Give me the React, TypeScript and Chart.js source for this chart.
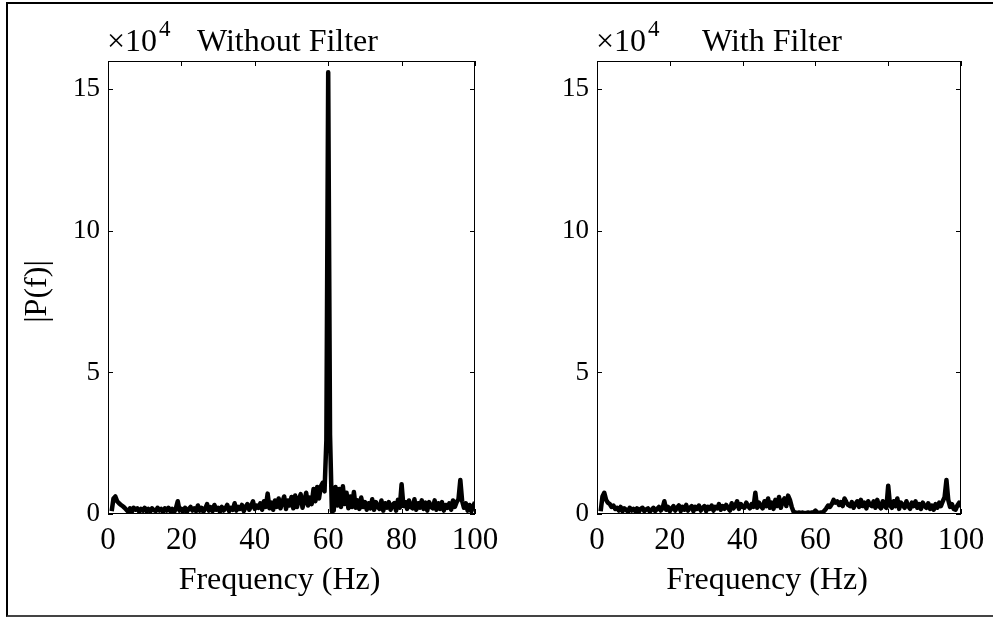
import React, { useEffect, useRef } from "react";
import { Chart, registerables } from "chart.js";

Chart.register(...registerables);

// Sample grid (Hz): 1.0, 1.5, ... 100.0
const frequencies: number[] = Array.from({ length: 199 }, (_, i) => 1 + i * 0.5);

// |P(f)| values in units of 10^4 (one value per 0.5 Hz)
const withoutFilter: number[] = [
  0.10, 0.55, 0.62, 0.45, 0.38, 0.32, 0.28, 0.22, 0.15, 0.08,
  0.20, 0.08, 0.22, 0.15, 0.20, 0.08, 0.18, 0.12, 0.22, 0.10,
  0.18, 0.08, 0.20, 0.14, 0.10, 0.22, 0.12, 0.18, 0.08, 0.20,
  0.12, 0.22, 0.10, 0.18, 0.06, 0.20, 0.45, 0.12, 0.18, 0.10,
  0.22, 0.08, 0.18, 0.25, 0.12, 0.20, 0.10, 0.30, 0.12, 0.22,
  0.08, 0.20, 0.35, 0.12, 0.24, 0.10, 0.32, 0.15, 0.22, 0.08,
  0.25, 0.12, 0.20, 0.32, 0.10, 0.22, 0.15, 0.38, 0.12, 0.25,
  0.18, 0.32, 0.10, 0.25, 0.35, 0.15, 0.28, 0.45, 0.18, 0.30,
  0.22, 0.38, 0.15, 0.45, 0.25, 0.72, 0.20, 0.40, 0.15, 0.48,
  0.25, 0.55, 0.20, 0.42, 0.62, 0.18, 0.48, 0.30, 0.60, 0.20,
  0.65, 0.25, 0.52, 0.70, 0.22, 0.48, 0.75, 0.30, 0.58, 0.35,
  0.88, 0.45, 0.95, 0.55, 0.98, 1.10, 0.80, 2.60, 15.60, 2.80,
  0.10, 0.12, 0.95, 0.30, 0.88, 0.25, 0.98, 0.35, 0.75, 0.20,
  0.62, 0.25, 0.78, 0.22, 0.48, 0.18, 0.58, 0.25, 0.42, 0.15,
  0.38, 0.20, 0.52, 0.15, 0.42, 0.25, 0.18, 0.48, 0.12, 0.38,
  0.22, 0.42, 0.15, 0.32, 0.38, 0.12, 0.50, 0.22, 1.05, 0.28,
  0.42, 0.18, 0.48, 0.25, 0.20, 0.52, 0.15, 0.38, 0.22, 0.48,
  0.18, 0.40, 0.12, 0.42, 0.25, 0.20, 0.48, 0.15, 0.38, 0.18,
  0.42, 0.12, 0.32, 0.22, 0.38, 0.15, 0.48, 0.25, 0.42, 0.52,
  1.20, 0.45, 0.22, 0.38, 0.12, 0.32, 0.10, 0.28, 0.42,
];

const withFilter: number[] = [
  0.10, 0.62, 0.75, 0.50, 0.40, 0.35, 0.25, 0.30, 0.18, 0.22,
  0.12, 0.25, 0.10, 0.20, 0.15, 0.08, 0.22, 0.12, 0.18, 0.10,
  0.20, 0.08, 0.18, 0.22, 0.10, 0.16, 0.20, 0.08, 0.15, 0.22,
  0.10, 0.18, 0.25, 0.12, 0.20, 0.45, 0.15, 0.25, 0.10, 0.20,
  0.28, 0.12, 0.22, 0.30, 0.10, 0.25, 0.15, 0.32, 0.12, 0.22,
  0.28, 0.10, 0.25, 0.18, 0.30, 0.12, 0.22, 0.28, 0.10, 0.25,
  0.18, 0.30, 0.12, 0.25, 0.20, 0.35, 0.15, 0.28, 0.18, 0.32,
  0.22, 0.12, 0.38, 0.20, 0.30, 0.45, 0.18, 0.35, 0.25, 0.22,
  0.40, 0.28, 0.20, 0.35, 0.25, 0.75, 0.22, 0.40, 0.28, 0.20,
  0.45, 0.28, 0.55, 0.22, 0.40, 0.18, 0.50, 0.28, 0.60, 0.22,
  0.45, 0.55, 0.28, 0.65, 0.50, 0.25, 0.08, 0.05, 0.04, 0.05,
  0.04, 0.05, 0.03, 0.04, 0.05, 0.04, 0.05, 0.06, 0.12, 0.05,
  0.04, 0.05, 0.06, 0.12, 0.20, 0.30, 0.25, 0.35, 0.50, 0.40,
  0.45, 0.32, 0.42, 0.28, 0.55, 0.42, 0.32, 0.28, 0.42, 0.22,
  0.35, 0.45, 0.25, 0.50, 0.28, 0.40, 0.20, 0.45, 0.32, 0.28,
  0.45, 0.22, 0.50, 0.28, 0.20, 0.45, 0.28, 0.22, 1.00, 0.32,
  0.22, 0.45, 0.28, 0.55, 0.18, 0.40, 0.32, 0.22, 0.45, 0.28,
  0.18, 0.40, 0.28, 0.45, 0.22, 0.35, 0.18, 0.40, 0.28, 0.22,
  0.38, 0.18, 0.30, 0.15, 0.35, 0.22, 0.40, 0.28, 0.45, 0.60,
  1.20, 0.50, 0.25, 0.35, 0.18, 0.15, 0.30, 0.40, 0.25,
];

const xTicks: number[] = [0, 20, 40, 60, 80, 100];
const yTicks: number[] = [0, 5, 10, 15];
const titles: string[] = ["Without Filter", "With Filter"];
const xLabel = "Frequency (Hz)";
const yLabel = "|P(f)|";

const FONT = "'Liberation Serif', 'Times New Roman', serif";
const XTICK_SIZE = 31;
const YTICK_SIZE = 27;
const TEXT_SIZE = 32;

function framePlugin(title: string, showY: boolean, titleShift: number) {
  return {
    id: "matlabFrame",
    afterDatasetsDraw(chart: any) {
      const { ctx, chartArea: a, scales } = chart;
      const xs = scales.x;
      const ys = scales.y;
      ctx.save();
      ctx.strokeStyle = "#000";
      ctx.lineWidth = 1;
      ctx.strokeRect(a.left + 0.5, a.top + 0.5, a.right - a.left - 1, a.bottom - a.top - 1);
      const L = 5;
      ctx.beginPath();
      ys.ticks.forEach((t: any) => {
        const py = Math.round(ys.getPixelForValue(t.value)) + 0.5;
        ctx.moveTo(a.left, py);
        ctx.lineTo(a.left + L, py);
        ctx.moveTo(a.right, py);
        ctx.lineTo(a.right - L, py);
      });
      xs.ticks.forEach((t: any) => {
        const px = Math.round(xs.getPixelForValue(t.value)) + 0.5;
        ctx.moveTo(px, a.bottom);
        ctx.lineTo(px, a.bottom - L);
        ctx.moveTo(px, a.top);
        ctx.lineTo(px, a.top + L);
      });
      ctx.stroke();

      ctx.fillStyle = "#000";
      ctx.textBaseline = "alphabetic";
      const cx = (a.left + a.right) / 2;
      ctx.font = `${TEXT_SIZE}px ${FONT}`;
      ctx.textAlign = "center";
      ctx.fillText(title, cx + titleShift, 51);
      ctx.fillText(xLabel, cx - 12, 589);
      ctx.textAlign = "left";
      ctx.font = `${TEXT_SIZE}px ${FONT}`;
      ctx.fillText("×10", a.left - 1, 51);
      const w = ctx.measureText("×10").width;
      ctx.font = `23px ${FONT}`;
      ctx.fillText("4", a.left - 1 + w + 2, 36);
      if (showY) {
        ctx.font = `${TEXT_SIZE}px ${FONT}`;
        ctx.textAlign = "center";
        ctx.translate(46, (a.top + a.bottom) / 2 + 4);
        ctx.rotate(-Math.PI / 2);
        ctx.fillText(yLabel, 0, 0);
      }
      ctx.restore();
    },
  };
}

function SpectrumChart(props: {
  values: number[];
  title: string;
  showY: boolean;
  width: number;
  axisWidth: number;
  padRight: number;
  titleShift: number;
}) {
  const ref = useRef<HTMLCanvasElement | null>(null);
  useEffect(() => {
    if (!ref.current) return;
    const chart = new Chart(ref.current, {
      type: "line",
      data: {
        datasets: [
          {
            data: frequencies.map((f, i) => ({ x: f, y: props.values[i] })),
            borderColor: "#000",
            borderWidth: 4.5,
            borderJoinStyle: "round",
            pointRadius: 0,
            tension: 0,
            fill: false,
          },
        ],
      },
      options: {
        responsive: false,
        animation: false,
        devicePixelRatio: 1,
        layout: { padding: { top: 61, right: props.padRight, bottom: 0, left: 0 } },
        plugins: { legend: { display: false }, tooltip: { enabled: false }, title: { display: false } },
        scales: {
          x: {
            type: "linear",
            min: 0,
            max: 100,
            grid: { display: false, drawTicks: false },
            border: { display: false },
            afterBuildTicks: (s: any) => {
              s.ticks = xTicks.map((v) => ({ value: v }));
            },
            afterFit: (s: any) => {
              s.height = 103;
              s.paddingLeft = 0;
              s.paddingRight = 0;
            },
            ticks: {
              color: "#000",
              padding: 8,
              maxRotation: 0,
              autoSkip: false,
              font: { family: FONT, size: XTICK_SIZE },
            },
          },
          y: {
            type: "linear",
            min: 0,
            max: 16,
            grid: { display: false, drawTicks: false },
            border: { display: false },
            afterBuildTicks: (s: any) => {
              s.ticks = yTicks.map((v) => ({ value: v }));
            },
            afterFit: (s: any) => {
              s.width = props.axisWidth;
              s.paddingTop = 0;
              s.paddingBottom = 0;
            },
            ticks: {
              color: "#000",
              padding: 8,
              font: { family: FONT, size: YTICK_SIZE },
            },
          },
        },
      },
      plugins: [framePlugin(props.title, props.showY, props.titleShift)],
    } as any);
    return () => chart.destroy();
  }, []);
  return <canvas ref={ref} width={props.width} height={617} style={{ display: "block", width: props.width, height: 617 }} />;
}

export default function App() {
  return (
    <div
      style={{
        position: "absolute",
        left: 0,
        top: 0,
        width: 993,
        height: 617,
        overflow: "hidden",
        background: "#fff",
      }}
    >
      <div style={{ position: "absolute", left: 0, top: 0 }}>
        <SpectrumChart values={withoutFilter} title={titles[0]} showY={true} width={530} axisWidth={108} padRight={55} titleShift={-4} />
      </div>
      <div style={{ position: "absolute", left: 497, top: 0 }}>
        <SpectrumChart values={withFilter} title={titles[1]} showY={false} width={496} axisWidth={100} padRight={32} titleShift={-7} />
      </div>
      <div
        style={{
          position: "absolute",
          left: 6,
          top: 2,
          width: 1000,
          height: 611,
          borderLeft: "2px solid #000",
          borderTop: "2px solid #000",
          borderBottom: "2px solid #444",
          pointerEvents: "none",
        }}
      />
    </div>
  );
}
